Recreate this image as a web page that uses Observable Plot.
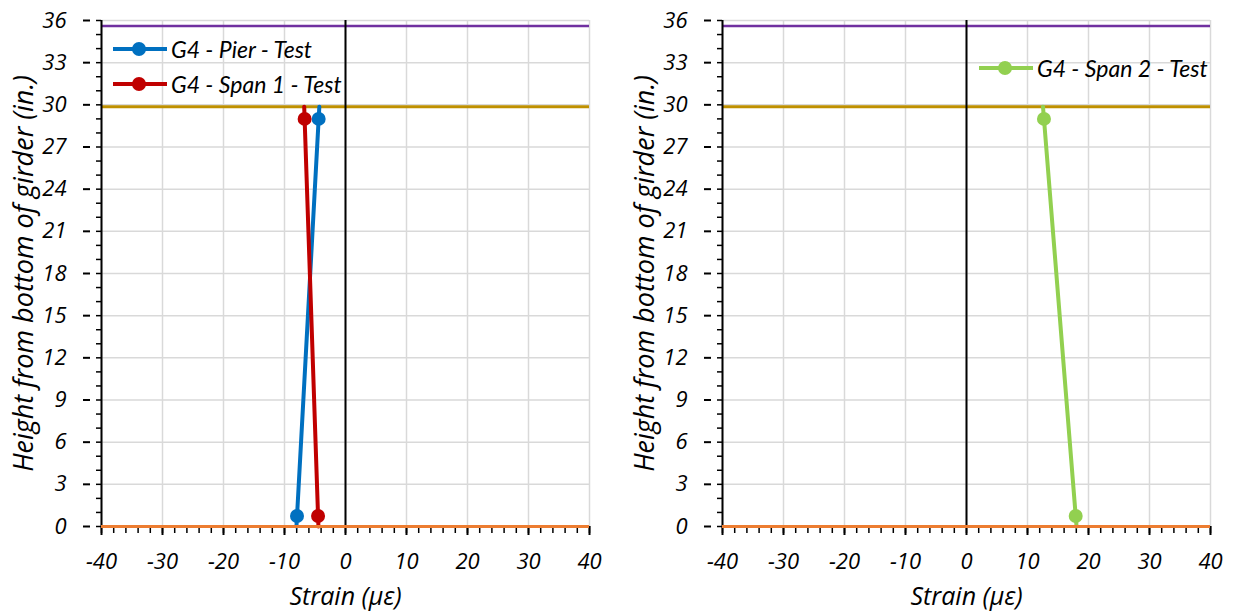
<!DOCTYPE html>
<html><head><meta charset="utf-8">
<script src="https://cdn.jsdelivr.net/npm/d3@7"></script>
<script src="https://cdn.jsdelivr.net/npm/@observablehq/plot@0.6"></script>
<style>
body{margin:0;background:#fff;}
#wrap{position:relative;width:1235px;height:613px;overflow:hidden;font-family:Lato,"Open Sans",sans-serif;}
.panel{position:absolute;top:0;}
.legend{position:absolute;font-style:italic;font-size:23px;color:#000;font-family:Lato,sans-serif;}
.legend .item{display:flex;align-items:center;height:35px;}
.legend svg{margin-right:2px;}
</style></head><body>
<div id="wrap"></div>
<script>
// ---- data ----
const gaugeHeights = [0.75, 29];          // in.
const pierStrain   = [-7.95, -4.4];       // G4 - Pier - Test
const span1Strain  = [-4.5, -6.7];        // G4 - Span 1 - Test
const span2Strain  = [17.9, 12.7];        // G4 - Span 2 - Test
// profile lines drawn from the bottom of the girder to its top
const profileHeights = [0, 29.87];
const pierProfile  = [-8.04, -4.29];
const span1Profile = [-4.44, -6.77];
const span2Profile = [18.04, 12.54];
// reference horizontal lines (in.)
const topLine = [35.6];
const flangeLine = [29.87];
const bottomLine = [0];
// axis ticks
const xMajor = [-40, -30, -20, -10, 0, 10, 20, 30, 40];
const xMinor = d3.range(-40, 41, 2);
const yMajor = [0, 3, 6, 9, 12, 15, 18, 21, 24, 27, 30, 33, 36];
const yMinor = d3.range(0, 37, 1);
const xTitle = "Strain (με)";
const yTitle = "Height from bottom of girder (in.)";

const C = {pier: "#0070c0", span1: "#c00000", span2: "#92d050",
           purple: "#7030a0", gold: "#bf9000", orange: "#ed7d31", grid: "#d9d9d9"};
const F = "'Open Sans', Lato, sans-serif";

function table(xs, ys) { return xs.map((x, i) => ({x, y: ys[i]})); }

function panel(series, width, marginLeft, marginRight) {
  const marks = [
    Plot.gridX(xMajor, {stroke: C.grid, strokeOpacity: 1, strokeWidth: 1.5}),
    Plot.gridY(yMajor, {stroke: C.grid, strokeOpacity: 1, strokeWidth: 1.5}),
    Plot.axisX(xMinor, {tickSize: 7, text: null, label: null, strokeWidth: 1.5}),
    Plot.axisX(xMajor, {tickSize: 9, tickPadding: 18, strokeWidth: 2, tickFormat: d => String(d),
      fontSize: 22, fontFamily: F, label: null}),
    Plot.axisX({ticks: [], label: xTitle, labelAnchor: "center", labelOffset: 78, labelArrow: "none", fontSize: 25, fontFamily: F}),
    Plot.axisY(yMinor, {tickSize: 5, text: null, label: null, strokeWidth: 1.5}),
    Plot.axisY(yMajor, {tickSize: 7, tickPadding: 17, dx: -11, strokeWidth: 2, tickFormat: d => String(d),
      fontSize: 22, fontFamily: F, label: null}),
    Plot.axisY({ticks: [], label: yTitle, labelAnchor: "center", labelOffset: 88, labelArrow: "none", fontSize: 27, fontFamily: F, dx: 38}),
    Plot.ruleY(topLine, {stroke: C.purple, strokeWidth: 2.5}),
    Plot.ruleY(flangeLine, {stroke: C.gold, strokeWidth: 3}),
    Plot.ruleX([-40], {stroke: "#000", strokeWidth: 2}),
    Plot.ruleX([0], {stroke: "#000", strokeWidth: 2})
  ];
  for (const s of series) {
    marks.push(Plot.line(table(s.profile, profileHeights), {x: "x", y: "y", stroke: s.color, strokeWidth: 4}));
  }
  for (const s of series) {
    marks.push(Plot.dot(table(s.strain, gaugeHeights), {x: "x", y: "y", fill: s.color, r: 7}));
  }
  marks.push(Plot.ruleY(bottomLine, {stroke: C.orange, strokeWidth: 3}));
  return Plot.plot({
    width, height: 613, marginTop: 20, marginBottom: 87, marginLeft, marginRight,
    x: {domain: [-40, 40]}, y: {domain: [0, 36]},
    style: {fontFamily: F, fontStyle: "italic", fontSize: "22px", color: "#000", background: "transparent", overflow: "visible"},
    marks
  });
}

function legend(items, left, top) {
  const div = document.createElement("div");
  div.className = "legend";
  div.style.left = left + "px";
  div.style.top = top + "px";
  for (const it of items) {
    const row = document.createElement("div");
    row.className = "item";
    row.innerHTML = `<svg width="58" height="16"><line x1="2" x2="56" y1="8" y2="8" stroke="${it.color}" stroke-width="4"/><circle cx="28" cy="8" r="7" fill="${it.color}"/></svg><span>${it.label}</span>`;
    div.appendChild(row);
  }
  return div;
}

const wrap = document.getElementById("wrap");
const left = panel([
  {strain: pierStrain, profile: pierProfile, color: C.pier},
  {strain: span1Strain, profile: span1Profile, color: C.span1}
], 617, 101, 28);
left.classList.add("panel"); left.style.left = "0px";
wrap.appendChild(left);

const right = panel([
  {strain: span2Strain, profile: span2Profile, color: C.span2}
], 618, 105, 25);
right.classList.add("panel"); right.style.left = "617px";
wrap.appendChild(right);

wrap.appendChild(legend([
  {label: "G4 - Pier - Test", color: C.pier},
  {label: "G4 - Span 1 - Test", color: C.span1}
], 111, 31));
wrap.appendChild(legend([
  {label: "G4 - Span 2 - Test", color: C.span2}
], 977, 50));
</script>
</body></html>
